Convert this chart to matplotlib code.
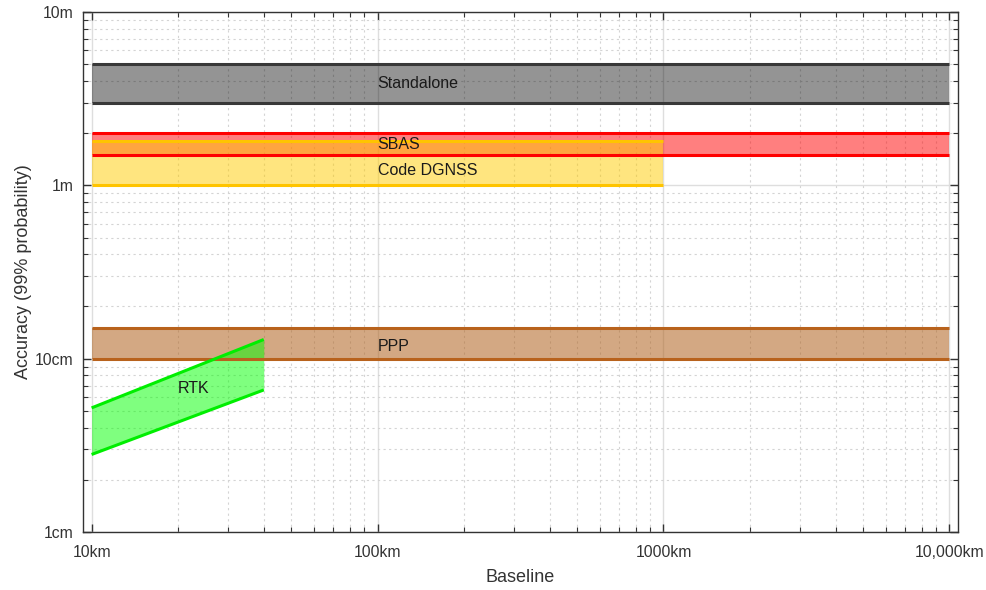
import numpy as np
import matplotlib.pyplot as plt
from matplotlib.ticker import FixedLocator, LogLocator, NullFormatter

plt.rcParams['font.family'] = ['Liberation Sans', 'DejaVu Sans']

# baseline in km, accuracy in metres
standalone_x = [10, 10000]
standalone_lo = [3.0, 3.0]
standalone_hi = [5.0, 5.0]

sbas_x = [10, 10000]
sbas_lo = [1.5, 1.5]
sbas_hi = [2.0, 2.0]

dgnss_x = [10, 1000]
dgnss_lo = [1.0, 1.0]
dgnss_hi = [1.8, 1.8]

ppp_x = [10, 10000]
ppp_lo = [0.10, 0.10]
ppp_hi = [0.15, 0.15]

rtk_x = [10, 40]
rtk_lo = [0.028, 0.066]
rtk_hi = [0.052, 0.129]

x_ticks = [10, 100, 1000, 10000]
x_ticklabels = ['10km', '100km', '1000km', '10,000km']
y_ticks = [0.01, 0.1, 1, 10]
y_ticklabels = ['1cm', '10cm', '1m', '10m']

# name, x, lo, hi, edge colour, fill colour, fill alpha, label position
bands = [
    ('Standalone', standalone_x, standalone_lo, standalone_hi, '#383838', '#000000', 0.42, (100, 3.85)),
    ('SBAS', sbas_x, sbas_lo, sbas_hi, '#ff0000', '#ff0000', 0.5, (100, 1.73)),
    ('Code DGNSS', dgnss_x, dgnss_lo, dgnss_hi, '#ffc400', '#ffcc00', 0.5, (100, 1.22)),
    ('PPP', ppp_x, ppp_lo, ppp_hi, '#b8621c', '#b0621e', 0.55, (100, 0.118)),
    ('RTK', rtk_x, rtk_lo, rtk_hi, '#00ee00', '#00ff00', 0.5, (20, 0.067)),
]

fig = plt.figure(figsize=(9.86, 5.9), dpi=100)
ax = fig.add_axes([0.0842, 0.0983, 0.8874, 0.8814])
ax.set_xscale('log')
ax.set_yscale('log')

for name, x, lo, hi, ec, fc, a, (tx, ty) in bands:
    ax.fill_between(x, lo, hi, color=fc, alpha=a, lw=0)
    ax.plot(x, lo, color=ec, lw=2.2, solid_capstyle='butt')
    ax.plot(x, hi, color=ec, lw=2.2, solid_capstyle='butt')
    ax.text(tx, ty, name, fontsize=11.5, color='#1a1a1a', ha='left', va='center')

ax.set_xlim(10 ** 0.97, 10 ** 4.03)
ax.set_ylim(0.01, 10)

ax.xaxis.set_major_locator(FixedLocator(x_ticks))
ax.set_xticklabels(x_ticklabels)
ax.yaxis.set_major_locator(FixedLocator(y_ticks))
ax.set_yticklabels(y_ticklabels)
ax.xaxis.set_minor_locator(LogLocator(base=10, subs=np.arange(2, 10)))
ax.yaxis.set_minor_locator(LogLocator(base=10, subs=np.arange(2, 10)))
ax.xaxis.set_minor_formatter(NullFormatter())
ax.yaxis.set_minor_formatter(NullFormatter())

ax.set_axisbelow(True)
ax.grid(True, which='major', color='#dedede', lw=1.0, ls='-')
ax.grid(True, which='minor', color='#d4d4d4', lw=0.8, ls=(0, (2, 3)))

ax.tick_params(which='both', direction='in', top=True, right=True,
               color='#333333', labelcolor='#333333', labelsize=11.3)
ax.tick_params(which='major', length=6, width=1)
ax.tick_params(which='minor', length=3.5, width=0.8)
ax.tick_params(axis='x', pad=9)
ax.tick_params(axis='y', pad=7)
for s in ax.spines.values():
    s.set_color('#333333')
    s.set_linewidth(1.0)

ax.set_xlabel('Baseline', fontsize=13, color='#333333', labelpad=7)
ax.set_ylabel('Accuracy (99% probability)', fontsize=13, color='#333333', labelpad=2)

fig.savefig('out.png', dpi=100)
